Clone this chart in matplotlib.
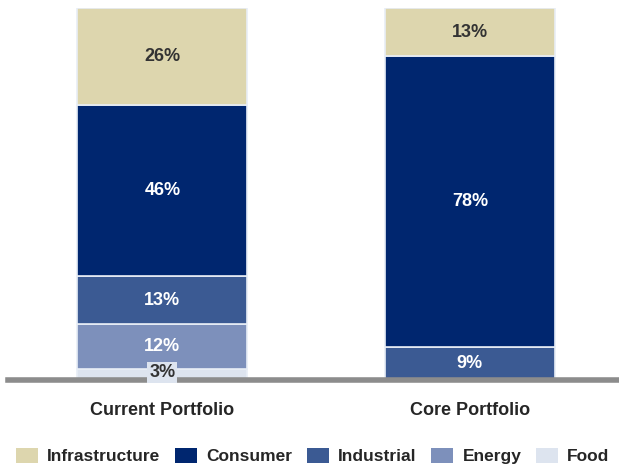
import matplotlib.pyplot as plt
from matplotlib.patches import Patch

plt.rcParams['font.family'] = ['Liberation Sans', 'DejaVu Sans']

portfolios = ['Current Portfolio', 'Core Portfolio']
sectors = ['Food', 'Energy', 'Industrial', 'Consumer', 'Infrastructure']
colors = {'Infrastructure': '#ddd6ae', 'Consumer': '#00266f',
          'Industrial': '#3b5a93', 'Energy': '#7d90bb', 'Food': '#dde4ef'}
text_colors = {'Infrastructure': '#333333', 'Consumer': 'white',
               'Industrial': 'white', 'Energy': 'white', 'Food': '#333333'}

# share of each sector per portfolio (%), stacked bottom to top
shares = {
    'Food':           [3, 0],
    'Energy':         [12, 0],
    'Industrial':     [13, 9],
    'Consumer':       [46, 78],
    'Infrastructure': [26, 13],
}

fig = plt.figure(figsize=(6.19, 4.66), dpi=100)
ax = fig.add_axes([0, 0.1845, 1, 0.798])

x = [0, 1]
width = 0.553
bottoms = [0, 0]
for s in sectors:
    vals = shares[s]
    ax.bar(x, vals, width, bottom=bottoms, color=colors[s],
           edgecolor='#e8eef6', linewidth=1.2, zorder=2)
    for i, v in enumerate(vals):
        if v == 0:
            continue
        yc = bottoms[i] + v / 2
        kw = {}
        if v < 5:
            yc = bottoms[i] + v / 2 + 0.6
            kw['bbox'] = dict(boxstyle='square,pad=0.1', fc=colors[s], ec='none')
        ax.text(x[i], yc, f'{v}%', ha='center', va='center', fontsize=13,
                fontweight='bold', color=text_colors[s], zorder=4, **kw)
    bottoms = [b + v for b, v in zip(bottoms, vals)]

# baseline
ax.axhline(0, xmin=8 / 619, xmax=1, color='#8c8c8c', linewidth=4,
           zorder=3, clip_on=False)

for i, name in enumerate(portfolios):
    ax.text(x[i], -0.083, name, transform=ax.get_xaxis_transform(),
            ha='center', va='center', fontsize=13, fontweight='bold',
            color='#262626')

ax.set_xlim(-0.528, 1.485)
ax.set_ylim(0, 100)
ax.axis('off')

legend_order = ['Infrastructure', 'Consumer', 'Industrial', 'Energy', 'Food']
handles = [Patch(facecolor=colors[s], edgecolor='none', label=s) for s in legend_order]
fig.legend(handles=handles, loc='center', bbox_to_anchor=(0.505, 10 / 466), ncol=5,
           frameon=False, handlelength=1.27, handleheight=1.03,
           handletextpad=0.52, columnspacing=0.86,
           prop={'weight': 'bold', 'size': 12.5}, labelcolor='#262626')

fig.savefig('out.png', dpi=100)
